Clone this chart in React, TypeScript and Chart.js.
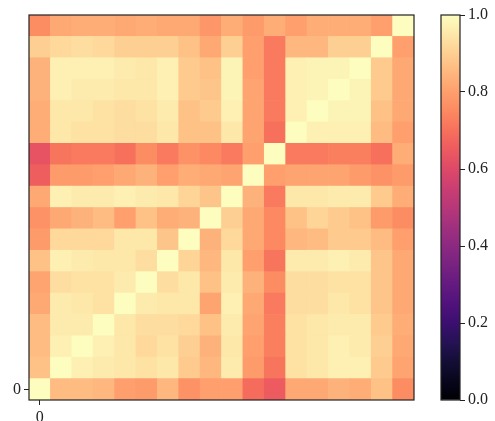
import React, { useEffect, useRef } from 'react';
import { Chart, registerables } from 'chart.js';

Chart.register(...registerables);

// Categories (matrix index) along x and y
const categories = ['0','1','2','3','4','5','6','7','8','9','10','11','12','13','14','15','16','17'];

// Correlation matrix rows, row 0 is the bottom row of the picture
const corrRows: number[][] = [
  /* 0 */ [1.00,0.86,0.86,0.85,0.80,0.79,0.85,0.77,0.80,0.80,0.69,0.65,0.82,0.82,0.84,0.83,0.87,0.76],
  /* 1 */ [0.87,1.00,0.97,0.96,0.95,0.94,0.95,0.89,0.85,0.96,0.79,0.71,0.94,0.95,0.97,0.97,0.89,0.81],
  /* 2 */ [0.86,0.97,1.00,0.97,0.95,0.92,0.94,0.90,0.84,0.95,0.80,0.73,0.94,0.95,0.97,0.96,0.90,0.82],
  /* 3 */ [0.86,0.96,0.96,1.00,0.95,0.93,0.93,0.92,0.87,0.96,0.81,0.73,0.94,0.95,0.96,0.96,0.89,0.83],
  /* 4 */ [0.82,0.96,0.95,0.94,1.00,0.96,0.95,0.95,0.81,0.97,0.82,0.72,0.93,0.93,0.95,0.94,0.88,0.82],
  /* 5 */ [0.81,0.93,0.94,0.94,0.96,1.00,0.93,0.95,0.87,0.96,0.84,0.76,0.93,0.93,0.94,0.94,0.88,0.82],
  /* 6 */ [0.87,0.97,0.96,0.95,0.95,0.93,1.00,0.91,0.85,0.95,0.80,0.71,0.96,0.96,0.97,0.96,0.88,0.82],
  /* 7 */ [0.79,0.92,0.92,0.92,0.95,0.95,0.88,1.00,0.84,0.92,0.82,0.75,0.85,0.86,0.89,0.89,0.86,0.80],
  /* 8 */ [0.77,0.82,0.84,0.86,0.80,0.87,0.83,0.84,1.00,0.90,0.82,0.75,0.87,0.91,0.89,0.87,0.79,0.76],
  /* 9 */ [0.82,0.97,0.96,0.96,0.97,0.96,0.95,0.91,0.88,1.00,0.84,0.72,0.95,0.95,0.96,0.96,0.89,0.83],
  /*10 */ [0.66,0.79,0.79,0.80,0.82,0.84,0.80,0.83,0.82,0.81,1.00,0.80,0.81,0.81,0.81,0.79,0.77,0.79],
  /*11 */ [0.63,0.71,0.72,0.72,0.70,0.76,0.72,0.77,0.75,0.72,0.80,1.00,0.72,0.72,0.73,0.73,0.70,0.83],
  /*12 */ [0.83,0.95,0.94,0.94,0.93,0.93,0.95,0.87,0.87,0.95,0.81,0.70,1.00,0.97,0.97,0.97,0.86,0.80],
  /*13 */ [0.83,0.95,0.95,0.94,0.93,0.94,0.96,0.87,0.89,0.97,0.81,0.72,0.97,1.00,0.98,0.98,0.87,0.82],
  /*14 */ [0.84,0.97,0.96,0.96,0.95,0.95,0.97,0.89,0.88,0.98,0.81,0.72,0.97,0.98,1.00,0.98,0.89,0.82],
  /*15 */ [0.84,0.97,0.97,0.97,0.96,0.95,0.97,0.89,0.87,0.98,0.80,0.72,0.97,0.98,0.98,1.00,0.89,0.82],
  /*16 */ [0.90,0.92,0.93,0.92,0.90,0.90,0.90,0.87,0.82,0.90,0.80,0.72,0.85,0.85,0.90,0.90,1.00,0.80],
  /*17 */ [0.76,0.82,0.83,0.83,0.82,0.83,0.82,0.82,0.78,0.83,0.79,0.83,0.80,0.83,0.83,0.83,0.80,1.00],
];

// Colour bar ticks
const colorbarTicks = [0, 0.2, 0.4, 0.6, 0.8, 1.0];

// magma colormap stops (0 .. 1 in steps of 0.05)
const MAGMA = [
  '#000004','#07061c','#140e36','#251255','#3b0f70','#51127c','#641a80','#782281',
  '#8c2981','#a1307e','#b73779','#ca3e72','#de4968','#ed5a5f','#f7705c','#fc8961',
  '#fe9f6d','#feb77e','#fecf92','#fde7a9','#fcfdbf',
];

function hexToRgb(h: string) {
  return [parseInt(h.slice(1, 3), 16), parseInt(h.slice(3, 5), 16), parseInt(h.slice(5, 7), 16)];
}
function magma(v: number) {
  const t = Math.max(0, Math.min(1, v)) * (MAGMA.length - 1);
  const i = Math.min(MAGMA.length - 2, Math.floor(t));
  const f = t - i;
  const a = hexToRgb(MAGMA[i]);
  const b = hexToRgb(MAGMA[i + 1]);
  const c = a.map((x, k) => Math.round(x + (b[k] - x) * f));
  return `rgb(${c[0]},${c[1]},${c[2]})`;
}

const FONT = { family: '"Liberation Serif", "DejaVu Serif", serif', size: 16 };
const INK = '#222';

const framePlugin = {
  id: 'frame',
  afterDraw(chart: any) {
    const { ctx, chartArea: a } = chart;
    ctx.save();
    ctx.strokeStyle = INK;
    ctx.lineWidth = 1.2;
    ctx.strokeRect(a.left, a.top, a.right - a.left, a.bottom - a.top);
    ctx.restore();
  },
};

export default function App() {
  const heatRef = useRef<HTMLCanvasElement>(null);
  const barRef = useRef<HTMLCanvasElement>(null);

  useEffect(() => {
    document.body.style.margin = '0';
    const datasets = corrRows.map((row, r) => ({
      label: 'row ' + r,
      data: row.map(() => 1),
      backgroundColor: row.map((v) => magma(v)),
      borderWidth: 0,
      barPercentage: 1,
      categoryPercentage: 1,
    }));

    const heat = new Chart(heatRef.current!, {
      type: 'bar',
      data: { labels: categories, datasets },
      options: {
        responsive: false,
        animation: false,
        devicePixelRatio: 1,
        layout: { padding: { top: 15, right: 6, left: 0, bottom: 0 } },
        plugins: { legend: { display: false }, tooltip: { enabled: false } },
        scales: {
          x: {
            stacked: true,
            grid: { display: true, drawOnChartArea: false, drawTicks: true, tickLength: 5, color: INK, offset: false },
            border: { display: false },
            ticks: { font: FONT, color: INK, padding: 3, maxRotation: 0 },
            afterBuildTicks: (s: any) => { s.ticks = [{ value: 0 }]; },
            afterFit: (s: any) => { s.height = 21; },
          },
          y: {
            stacked: true,
            min: 0,
            max: categories.length,
            grid: { display: true, drawOnChartArea: false, drawTicks: true, tickLength: 5, color: INK },
            border: { display: false },
            ticks: { font: FONT, color: INK, padding: 3, callback: () => categories[0] },
            afterBuildTicks: (s: any) => { s.ticks = [{ value: 0.5 }]; },
            afterFit: (s: any) => { s.width = 29; },
          },
        },
      },
      plugins: [framePlugin],
    } as any);

    const bar = new Chart(barRef.current!, {
      type: 'bar',
      data: {
        labels: ['cb'],
        datasets: [{
          data: [1],
          borderWidth: 0,
          barPercentage: 1,
          categoryPercentage: 1,
          backgroundColor: (c: any) => {
            const a = c.chart.chartArea;
            if (!a) return 'transparent';
            const g = c.chart.ctx.createLinearGradient(0, a.bottom, 0, a.top);
            MAGMA.forEach((col, i) => g.addColorStop(i / (MAGMA.length - 1), col));
            return g;
          },
        }],
      },
      options: {
        responsive: false,
        animation: false,
        devicePixelRatio: 1,
        layout: { padding: { top: 15, left: 11, right: 0, bottom: 21 } },
        plugins: { legend: { display: false }, tooltip: { enabled: false } },
        scales: {
          x: { display: false },
          y: {
            position: 'right',
            min: 0,
            max: 1,
            grid: { display: true, drawOnChartArea: false, drawTicks: true, tickLength: 5, color: INK },
            border: { display: false },
            ticks: { font: FONT, color: INK, padding: 3, callback: (v: any) => Number(v).toFixed(1) },
            afterBuildTicks: (s: any) => { s.ticks = colorbarTicks.map((v) => ({ value: v })); },
            afterFit: (s: any) => { s.width = 35; },
          },
        },
      },
      plugins: [framePlugin],
    } as any);

    return () => { heat.destroy(); bar.destroy(); };
  }, []);

  return (
    <div style={{ position: 'relative', width: 495, height: 421, background: '#fff', overflow: 'hidden' }}>
      <canvas ref={heatRef} width={420} height={421} style={{ position: 'absolute', left: 0, top: 0 }} />
      <canvas ref={barRef} width={65} height={421} style={{ position: 'absolute', left: 430, top: 0 }} />
    </div>
  );
}
